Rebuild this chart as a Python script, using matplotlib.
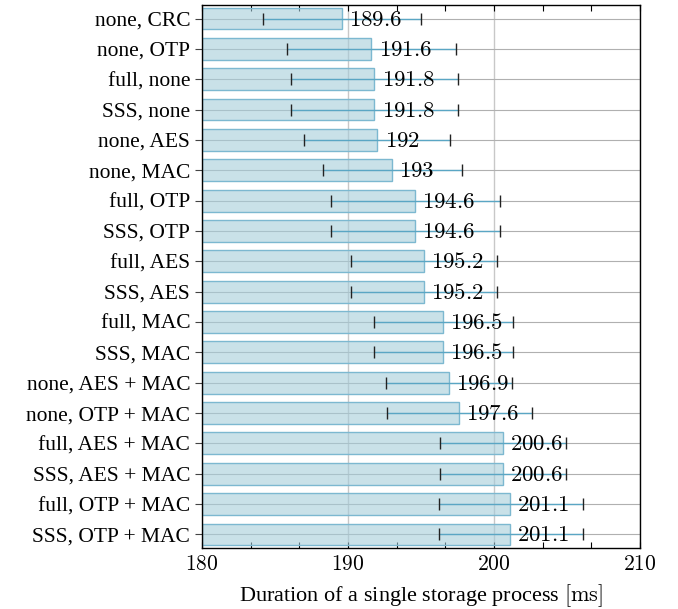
import numpy as np
import matplotlib
matplotlib.use('Agg')
import matplotlib.pyplot as plt
from matplotlib.ticker import FixedLocator

plt.rcParams['font.family'] = ['Liberation Serif', 'DejaVu Serif']
plt.rcParams['mathtext.fontset'] = 'cm'

labels = ['none, CRC', 'none, OTP', 'full, none', 'SSS, none', 'none, AES', 'none, MAC',
          'full, OTP', 'SSS, OTP', 'full, AES', 'SSS, AES', 'full, MAC', 'SSS, MAC',
          'none, AES + MAC', 'none, OTP + MAC', 'full, AES + MAC', 'SSS, AES + MAC',
          'full, OTP + MAC', 'SSS, OTP + MAC']
means = [189.6, 191.6, 191.8, 191.8, 192, 193, 194.6, 194.6, 195.2, 195.2,
         196.5, 196.5, 196.9, 197.6, 200.6, 200.6, 201.1, 201.1]
low = [184.2, 185.8, 186.1, 186.1, 187.0, 188.3, 188.8, 188.8, 190.2, 190.2,
       191.8, 191.8, 192.6, 192.7, 196.3, 196.3, 196.2, 196.2]
high = [195.0, 197.4, 197.5, 197.5, 197.0, 197.8, 200.4, 200.4, 200.2, 200.2,
        201.3, 201.3, 201.2, 202.6, 204.9, 204.9, 206.1, 206.1]

xmin = 180
y = np.arange(len(labels))
means_a = np.array(means)
err = [means_a - np.array(low), np.array(high) - means_a]

fig = plt.figure(figsize=(6.78, 6.09), dpi=100)
ax = fig.add_axes([0.298, 0.1, 0.646, 0.892])
ax.set_axisbelow(True)
ax.grid(True, axis='x', which='major', color='#c8c8c8', linewidth=1.0)
ax.grid(True, axis='y', color='#b0b0b0', linewidth=0.8)

ax.barh(y, means_a - xmin, left=xmin, height=0.72, color=(0.647, 0.804, 0.855, 0.6),
        edgecolor='#7cb8d0', linewidth=1.0, zorder=2)
eb = ax.errorbar(means_a, y, xerr=err, fmt='none', ecolor='#5aa6c4', elinewidth=1.0,
                 capsize=4, capthick=1.0, zorder=3)
for cap in eb[1]:
    cap.set_color('#222222')
    cap.set_markeredgecolor('#222222')

for yi, v in zip(y, means):
    ax.text(v + 0.5, yi + 0.05, f'${v:g}$', fontsize=16.5, va='center', ha='left', zorder=4)

ax.set_xlim(180, 210)
ax.set_ylim(len(labels) - 0.55, -0.45)
ax.set_yticks(y)
ax.set_yticklabels(labels, fontsize=15.5)
ax.set_xticks([180, 190, 200, 210])
ax.set_xticklabels([f'${t}$' for t in [180, 190, 200, 210]], fontsize=15.5)
ax.xaxis.set_minor_locator(FixedLocator([180 + k * 10 / 3 for k in range(10) if k % 3]))
ax.tick_params(axis='x', which='both', direction='in', top=True, length=4, width=0.8, pad=6)
ax.tick_params(axis='y', direction='out', length=5, width=0.8, color='#444444')

ax.set_xlabel(r'Duration of a single storage process $[\mathrm{ms}]$', fontsize=16, labelpad=5)
for s in ax.spines.values():
    s.set_linewidth(1.0)
    s.set_zorder(5)

fig.savefig('out.png', dpi=100)
